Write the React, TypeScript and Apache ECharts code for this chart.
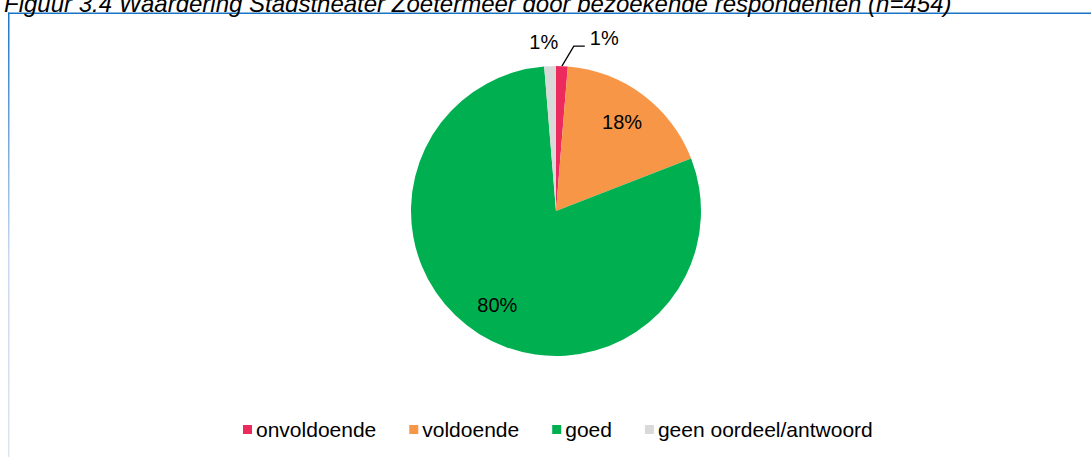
import React, { useEffect, useRef } from "react";
import * as echarts from "echarts";

const titleText = "Figuur 3.4 Waardering Stadstheater Zoetermeer door bezoekende respondenten (n=454)";
const categories = ["onvoldoende", "voldoende", "goed", "geen oordeel/antwoord"];
const values = [1.3, 17.8, 79.6, 1.3];
const colors = ["#EC2A5E", "#F79646", "#00B050", "#D9D9D9"];
const insideLabelled = [false, true, true, false];

const FONT = '"Liberation Sans", Arial, sans-serif';

export default function App() {
  const ref = useRef<HTMLDivElement>(null);
  useEffect(() => {
    if (!ref.current) return;
    const chart = echarts.init(ref.current, null, { renderer: "svg" });
    const cx = 556;
    const cy = 211;
    const r = 145;
    const fmt = (p: any) => Math.round(p.value) + "%";
    const mainData = categories.map((name, i) => {
      const item: any = {
        name,
        value: values[i],
        itemStyle: { color: colors[i] },
      };
      if (insideLabelled[i]) {
        item.label = { show: false };
        item.labelLine = { show: false };
      } else if (i === 0) {
        item.label = { show: true };
        item.labelLine = { show: true, length: 22, length2: 14 };
      } else {
        item.label = { show: true };
        item.labelLine = { show: false, length: 22, length2: 0 };
      }
      return item;
    });
    const overlayData = categories.map((name, i) => ({
      name,
      value: values[i],
      itemStyle: { color: "rgba(0,0,0,0)" },
      label: { show: insideLabelled[i] },
    }));
    chart.setOption({
      animation: false,
      backgroundColor: "#ffffff",
      textStyle: { fontFamily: FONT },
      title: {
        text: titleText,
        left: -1,
        top: -14,
        textStyle: {
          fontFamily: FONT,
          fontStyle: "italic",
          fontWeight: "normal",
          fontSize: 24,
          color: "#000",
        },
      },
      legend: {
        data: categories.map((name, i) => ({ name, itemStyle: { color: colors[i] } })),
        left: 238,
        top: 414,
        icon: "rect",
        itemWidth: 9,
        itemHeight: 9,
        itemGap: 33,
        selectedMode: false,
        textStyle: { fontFamily: FONT, fontSize: 21, color: "#000", padding: [0, 0, 0, -1] },
      },
      graphic: [
        {
          type: "rect",
          shape: { x: 8, y: 12.5, width: 1083, height: 1.5 },
          style: { fill: "#1B74C3" },
          silent: true,
        },
        {
          type: "rect",
          shape: { x: 8, y: 12.5, width: 1.5, height: 445 },
          style: {
            fill: new echarts.graphic.LinearGradient(0, 0, 0, 1, [
              { offset: 0, color: "#1B74C3" },
              { offset: 0.55, color: "#C9D8EE" },
              { offset: 1, color: "#DDE6F3" },
            ]),
          },
          silent: true,
        },
      ],
      series: [
        {
          type: "pie",
          center: [cx, cy],
          radius: [0, r],
          startAngle: 90,
          clockwise: true,
          avoidLabelOverlap: false,
          data: mainData,
          label: {
            position: "outside",
            formatter: fmt,
            fontFamily: FONT,
            fontSize: 20,
            color: "#000",
            distanceToLabelLine: 5,
          },
          labelLine: { lineStyle: { color: "#000", width: 1.3 } },
          labelLayout: (p: any) => {
            if (p.dataIndex === 3) return { dx: 14, dy: -2 };
            const pts = p.labelLinePoints;
            if (!pts) return { dy: -6, dx: 8 };
            return {
              dx: 8,
              dy: -6,
              labelLinePoints: [
                pts[0],
                [pts[1][0] + 11, pts[1][1] + 2],
                [pts[2][0] + 8, pts[2][1] + 2],
              ],
            };
          },
          itemStyle: { borderWidth: 0 },
          emphasis: { disabled: true },
        },
        {
          type: "pie",
          center: [cx, cy],
          radius: [70, r],
          startAngle: 90,
          clockwise: true,
          silent: true,
          data: overlayData,
          label: {
            position: "inside",
            formatter: fmt,
            fontFamily: FONT,
            fontSize: 20,
            color: "#000",
          },
          labelLine: { show: false },
          itemStyle: { borderWidth: 0 },
          emphasis: { disabled: true },
        },
      ],
    });
    return () => chart.dispose();
  }, []);
  return (
    <div
      ref={ref}
      style={{ position: "absolute", left: 0, top: 0, width: 1091, height: 457 }}
    />
  );
}
